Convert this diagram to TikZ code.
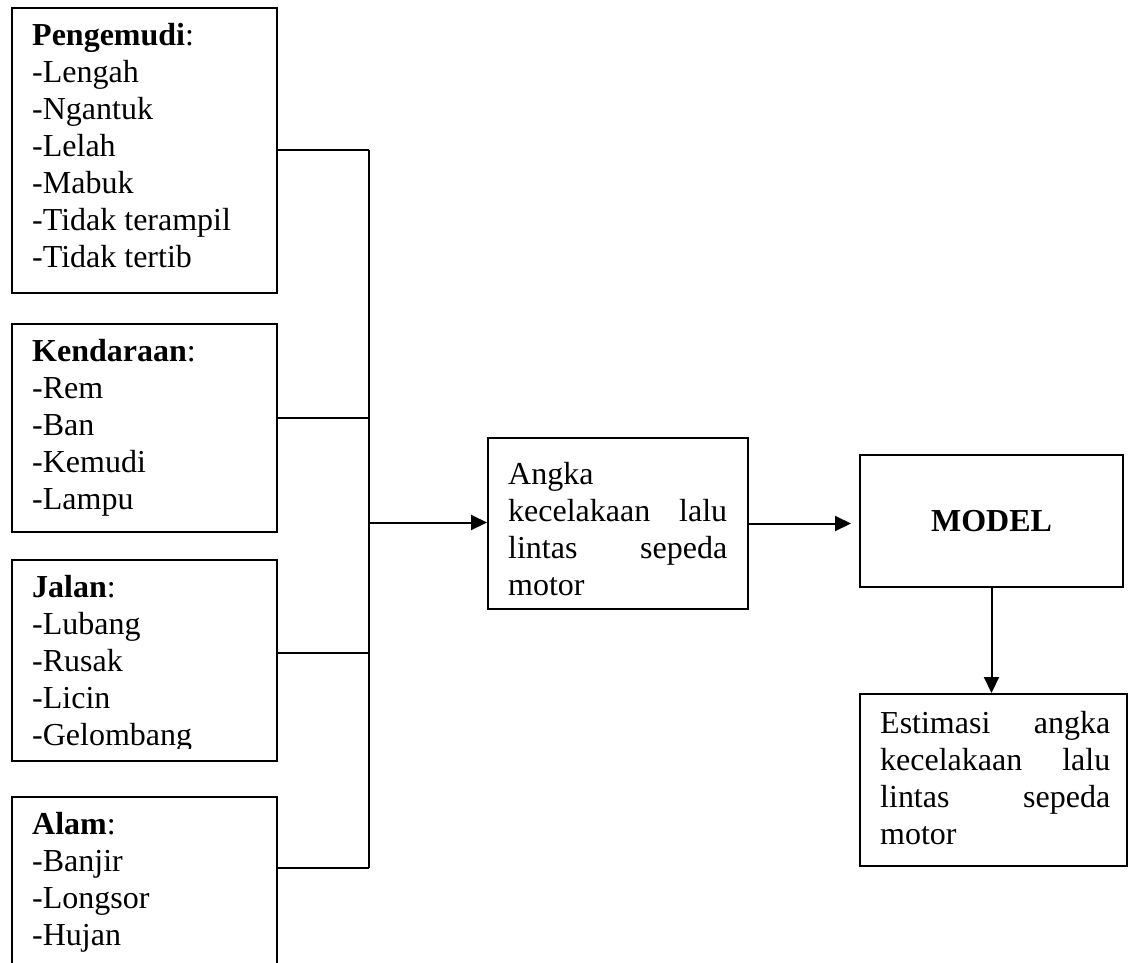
\documentclass[tikz,border=0pt]{standalone}
\usepackage{fontspec}
\setmainfont{Liberation Serif}
\usetikzlibrary{arrows.meta}
\newcommand\boxlines[1]{\begin{tabular}[t]{@{}l@{}}#1\end{tabular}}
\begin{document}
\begin{tikzpicture}[x=1pt,y=-1pt,
  box/.style={draw, line width=2pt, inner sep=0pt, anchor=north west},
  txt/.style={anchor=base west, inner sep=0pt, font=\fontsize{32}{37}\selectfont},
  link/.style={line width=2pt},
  arr/.style={line width=2pt, -{Triangle[length=16pt,width=15pt]}}]
\useasboundingbox (0,0) rectangle (1128,962);
\clip (0,0) rectangle (1128,962);

% left boxes
\node[box, minimum width=265pt, minimum height=285pt] (P) at (11,7) {};
\node[box, minimum width=265pt, minimum height=208pt] (K) at (11,323) {};
\node[box, minimum width=265pt, minimum height=201pt] (J) at (11,559) {};
\node[box, minimum width=265pt, minimum height=200pt] (A) at (11,796) {};

\node[txt] (Pt) at (32,45) {\boxlines{\textbf{Pengemudi}:\\-Lengah\\-Ngantuk\\-Lelah\\-Mabuk\\-Tidak terampil\\-Tidak tertib}};
\node[txt] (Kt) at (32,361) {\boxlines{\textbf{Kendaraan}:\\-Rem\\-Ban\\-Kemudi\\-Lampu}};
\begin{scope}
\clip (12,560) rectangle (275,748);
\node[txt] (Jt) at (32,597) {\boxlines{\textbf{Jalan}:\\-Lubang\\-Rusak\\-Licin\\-Gelombang}};
\end{scope}
\node[txt] (At) at (32,834) {\boxlines{\textbf{Alam}:\\-Banjir\\-Longsor\\-Hujan}};

% middle and right boxes
\node[box, minimum width=260pt, minimum height=171pt] (Ang) at (487,437) {};
\node[txt] (Angt) at (508,484) {\boxlines{Angka\\\makebox[219pt][s]{kecelakaan lalu}\\\makebox[219pt][s]{lintas sepeda}\\motor}};

\node[box, minimum width=263pt, minimum height=132pt] (M) at (859,454) {};
\node[font=\fontsize{32}{37}\selectfont\bfseries, inner sep=0pt] (Mt) at (M.center) {MODEL};

\node[box, minimum width=267pt, minimum height=172pt] (E) at (859,693) {};
\node[txt] (Et) at (880,733) {\boxlines{\makebox[230pt][s]{Estimasi angka}\\\makebox[230pt][s]{kecelakaan lalu}\\\makebox[230pt][s]{lintas sepeda}\\motor}};

% bus
\coordinate (b1) at (369,150);
\coordinate (b2) at (369,418);
\coordinate (b3) at (369,653);
\coordinate (b4) at (369,868);
\coordinate (bm) at (369,522.5);

\draw[link] (b1) -- (b4);
\draw[link] (P.east |- b1) -- (b1);
\draw[link] (K.east |- b2) -- (b2);
\draw[link] (J.east |- b3) -- (b3);
\draw[link] (A.east |- b4) -- (b4);

\draw[arr] (bm) -- (Ang.west |- bm);
\draw[arr, shorten >=8pt] (Ang.east) -- (Ang.east -| M.west);
\draw[arr] (M.south) -- (M.south |- E.north);
\end{tikzpicture}
\end{document}
